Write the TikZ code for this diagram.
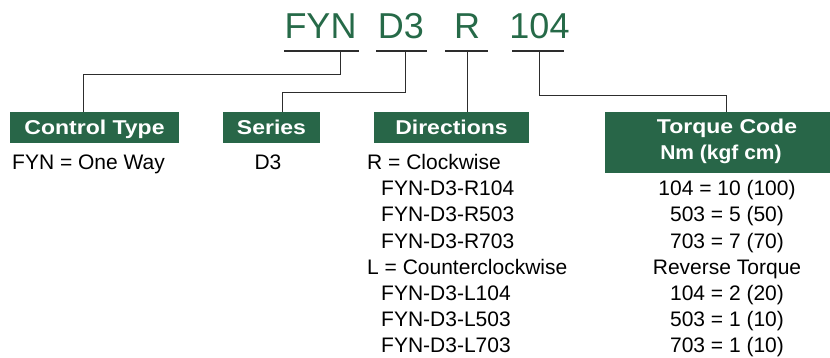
\documentclass[tikz,border=0pt]{standalone}
\usepackage{fontspec}
\setmainfont{Liberation Sans}
\newfontfamily\hdrfont[FakeStretch=1.15]{Liberation Sans Bold}
\newfontfamily\subfont[FakeStretch=1.05]{Liberation Sans Bold}
\definecolor{fgreen}{RGB}{40,102,72}
\definecolor{tgreen}{RGB}{38,106,72}
\definecolor{lineg}{RGB}{45,45,45}
\begin{document}
\begin{tikzpicture}[x=1pt,y=-1pt,
  title/.style={inner sep=0pt, anchor=base, text=tgreen, font=\fontsize{36}{36}\selectfont},
  uline/.style={fill=lineg, inner sep=0pt, minimum height=2pt},
  hbox/.style={fill=fgreen, text=white, inner sep=0pt, minimum height=31pt,
    text height=14pt, text depth=0pt, font=\hdrfont\fontsize{20}{20}\selectfont},
  body/.style={inner sep=0pt, anchor=base west, font=\fontsize{21}{21}\selectfont},
  cbody/.style={inner sep=0pt, anchor=base, font=\fontsize{21}{21}\selectfont},
  conn/.style={draw=lineg, line width=1pt}]
\useasboundingbox (0,0) rectangle (830,358);
% title parts
\node[title] (tf) at (320.5,39) {FYN};
\node[title] (td) at (401,39) {D3};
\node[title] (tr) at (467,39) {R};
\node[title] (tn) at (539.5,39) {104};
% underlines
\node[uline, minimum width=75pt] (u1) at (321.5,51) {};
\node[uline, minimum width=51pt] (u2) at (401.5,51) {};
\node[uline, minimum width=43pt] (u3) at (466.5,51) {};
\node[uline, minimum width=52pt] (u4) at (538,51) {};
% header boxes
\node[hbox, minimum width=169pt] (ct) at (94.5,127.5) {Control Type};
\node[hbox, minimum width=97pt] (se) at (271.5,127.5) {Series};
\node[hbox, minimum width=155pt] (di) at (451.5,127.5) {Directions};
\node[fill=fgreen, inner sep=0pt, minimum width=225pt, minimum height=61pt] (tq) at (717.5,142.5) {};
\node[inner sep=0pt, anchor=base, text=white, font=\hdrfont\fontsize{20}{20}\selectfont] (tq1) at (727,134) {Torque Code};
\node[inner sep=0pt, anchor=base, text=white, font=\subfont\fontsize{20}{20}\selectfont] (tq2) at (721,160) {Nm (kgf cm)};
% connector elbows
\coordinate (a1) at (340,75);
\coordinate (a2) at (83,75);
\coordinate (b1) at (405,93);
\coordinate (b2) at (282,93);
\coordinate (d1) at (539,96);
\coordinate (d2) at (726,96);
\draw[conn] (u1.south -| a1) -- (a1) -- (a2) -- (ct.north -| a2);
\draw[conn] (u2.south -| b1) -- (b1) -- (b2) -- (se.north -| b2);
\draw[conn] (u3.south -| 467,0) -- (di.north -| 467,0);
\draw[conn] (u4.south -| d1) -- (d1) -- (d2) -- (tq.north -| d2);
% body texts
\node[body] (ctb) at (12,170) {FYN = One Way};
\node[cbody] (seb) at (268,170) {D3};
\node[body] (r0) at (367,170) {R = Clockwise};
\node[body] (r1) at (381,196) {FYN-D3-R104};
\node[body] (r2) at (381,222) {FYN-D3-R503};
\node[body] (r3) at (381,248) {FYN-D3-R703};
\node[body] (l0) at (367,274) {L = Counterclockwise};
\node[body] (l1) at (381,300) {FYN-D3-L104};
\node[body] (l2) at (381,326) {FYN-D3-L503};
\node[body] (l3) at (381,352) {FYN-D3-L703};
\node[cbody] (q1) at (727,196) {104 = 10 (100)};
\node[cbody] (q2) at (727,222) {503 = 5 (50)};
\node[cbody] (q3) at (727,248) {703 = 7 (70)};
\node[cbody] (q4) at (727,274) {Reverse Torque};
\node[cbody] (q5) at (727,300) {104 = 2 (20)};
\node[cbody] (q6) at (727,326) {503 = 1 (10)};
\node[cbody] (q7) at (727,352) {703 = 1 (10)};
\end{tikzpicture}
\end{document}
